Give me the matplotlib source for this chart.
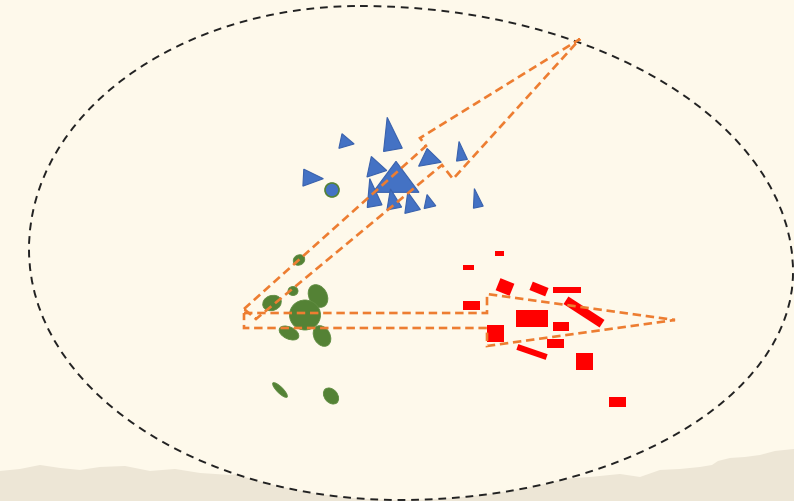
import numpy as np
import matplotlib.pyplot as plt
from matplotlib.patches import Ellipse, Rectangle, Polygon, Circle, PathPatch
from matplotlib.path import Path

# picture space is pixels, y pointing down
W, H = 794, 502
bg = '#fef9eb'
ground_col = '#ede6d6'

# ground silhouette along the bottom
ground_x = [0, 20, 40, 60, 80, 100, 125, 150, 175, 200, 230, 250, 280, 330,
            560, 590, 620, 640, 660, 680, 700, 712, 718, 730, 745, 760, 775, 794]
ground_y = [472, 470, 466, 469, 471, 468, 467, 472, 470, 474, 476, 473, 478, 480,
            480, 478, 475, 478, 471, 470, 468, 466, 462, 459, 458, 456, 452, 450]

# big dashed oval: top, right, bottom, left extreme points
oval_x = [360, 793, 400, 29]
oval_y = [7, 273, 501, 250]

# blue triangles: centroid, base, height, apex direction (deg, ccw on screen)
tri_x = [310, 345, 391, 375, 396, 373, 393, 411, 429, 429, 461, 477]
tri_y = [179, 143, 140, 169, 183, 198, 203, 206, 204, 160, 155, 202]
tri_base = [17, 15, 19, 21, 46, 15, 15, 16, 12, 23, 11, 10]
tri_h = [20, 14, 33, 18, 31, 28, 20, 20, 13, 16, 19, 19]
tri_dir = [-3, -12, 100, -12, 90, 100, 101, 104, 103, 100, 99, 102]

dot_x, dot_y, dot_r = 332, 191, 7

# green ellipses: centre, long axis, short axis, angle (deg, cw on screen)
blob_x = [299, 272, 293, 318, 305, 289, 322, 280, 331]
blob_y = [261, 304, 292, 297, 316, 334, 337, 391, 397]
blob_w = [12, 19, 10, 24, 31, 21, 22, 20, 18]
blob_h = [10, 15, 9, 18, 30, 12, 16, 6, 13]
blob_a = [-30, -20, 0, 60, 0, 25, 60, 45, 50]

# red rectangles: centre, width, height, angle (deg, cw on screen)
box_x = [499, 468, 505, 539, 567, 471, 532, 561, 584, 495, 555, 532, 584, 617]
box_y = [254, 268, 288, 290, 291, 306, 319, 327, 313, 334, 344, 353, 362, 403]
box_w = [9, 11, 15, 17, 28, 17, 32, 16, 43, 17, 17, 31, 17, 17]
box_h = [5, 5, 13, 9, 6, 9, 17, 9, 9, 17, 9, 6, 17, 10]
box_a = [0, 0, 22, 22, 0, 0, 0, 0, 33, 0, 0, 19, 0, 0]

# dashed arrow outlines
arrow1_x = [244, 487, 487, 675, 487, 487, 244]
arrow1_y = [314, 314, 295, 321, 347, 329, 329]
arrow2_x = [244, 426, 420, 580, 453, 442, 256]
arrow2_y = [310, 147, 139, 40, 180, 166, 320]

fig = plt.figure(figsize=(W / 100, H / 100), dpi=100)
fig.patch.set_facecolor(bg)
ax = fig.add_axes([0, 0, 1, 1])
ax.set_xlim(0, W)
ax.set_ylim(H, 0)
ax.set_facecolor(bg)
ax.axis('off')

gx = ground_x + [W, 0]
gy = ground_y + [H, H]
ax.add_patch(Polygon(np.column_stack([gx, gy]), closed=True,
                     facecolor=ground_col, edgecolor='none', zorder=1))

# oval as four cubic bezier quarters through the extreme points
k = 0.5523
tx, rx, bx, lx = oval_x
ty, ry, by, ly = oval_y
verts = [(tx, ty),
         (tx + k * (rx - tx), ty), (rx, ry - k * (ry - ty)), (rx, ry),
         (rx, ry + k * (by - ry)), (bx + k * (rx - bx), by), (bx, by),
         (bx - k * (bx - lx), by), (lx, ly + k * (by - ly)), (lx, ly),
         (lx, ly - k * (ly - ty)), (tx - k * (tx - lx), ty), (tx, ty),
         (tx, ty)]
codes = [Path.MOVETO] + [Path.CURVE4] * 12 + [Path.CLOSEPOLY]
ax.add_patch(PathPatch(Path(verts, codes), facecolor=bg, edgecolor='#222222',
                       lw=1.4, linestyle=(0, (4, 3)), zorder=2))

for cx, cy, b, h, a in zip(tri_x, tri_y, tri_base, tri_h, tri_dir):
    t = np.deg2rad(a)
    d = np.array([np.cos(t), -np.sin(t)])
    n = np.array([-d[1], d[0]])
    c = np.array([cx, cy])
    mid = c - d * h / 3
    pts = [mid + n * b / 2, mid - n * b / 2, mid + d * h]
    ax.add_patch(Polygon(pts, closed=True, facecolor='#4472c4',
                         edgecolor='#3a62ad', lw=0.8, zorder=3))

ax.add_patch(Circle((dot_x, dot_y), dot_r, facecolor='#4472c4',
                    edgecolor='#548235', lw=1.2, zorder=3))

for cx, cy, w, h, a in zip(blob_x, blob_y, blob_w, blob_h, blob_a):
    ax.add_patch(Ellipse((cx, cy), w, h, angle=a, facecolor='#548235',
                         edgecolor='#5f8c40', lw=0.6, zorder=3))

for cx, cy, w, h, a in zip(box_x, box_y, box_w, box_h, box_a):
    ax.add_patch(Rectangle((cx - w / 2, cy - h / 2), w, h, angle=a,
                           rotation_point='center', facecolor='#ff0000',
                           edgecolor='none', zorder=3))

for xs, ys in [(arrow1_x, arrow1_y), (arrow2_x, arrow2_y)]:
    ax.add_patch(Polygon(np.column_stack([xs, ys]), closed=True, fill=False,
                         edgecolor='#ed7d31', lw=1.9, linestyle=(0, (3.2, 1.8)),
                         zorder=4))

fig.savefig('out.png', dpi=100, facecolor=bg)
